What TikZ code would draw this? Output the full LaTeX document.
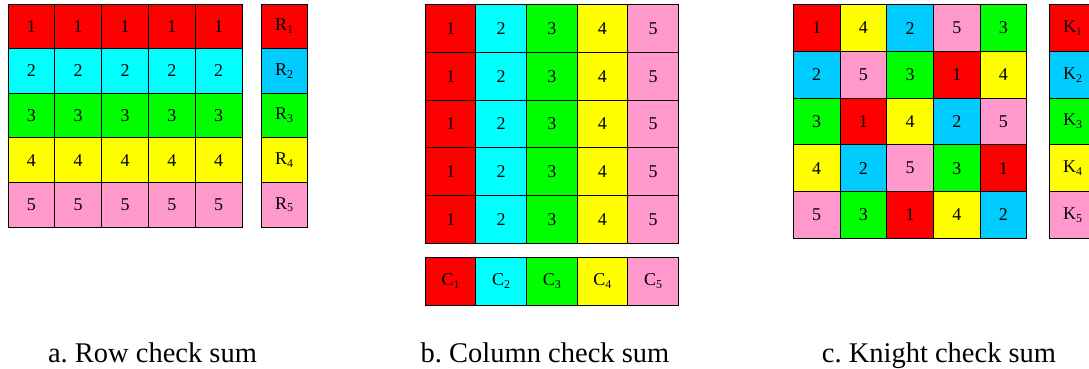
\documentclass[tikz,border=0pt]{standalone}
\usepackage{fontspec}
\setmainfont{Liberation Serif}
\frenchspacing
\definecolor{cred}{HTML}{FF0000}
\definecolor{ccyan}{HTML}{00FFFF}
\definecolor{csky}{HTML}{00CCFF}
\definecolor{cgreen}{HTML}{00FF00}
\definecolor{cyel}{HTML}{FFFF00}
\definecolor{cpink}{HTML}{FF99CC}
% panel a / b colours by value
\colorlet{a1}{cred}\colorlet{a2}{ccyan}\colorlet{a3}{cgreen}\colorlet{a4}{cyel}\colorlet{a5}{cpink}
\colorlet{r1}{cred}\colorlet{r2}{csky}\colorlet{r3}{cgreen}\colorlet{r4}{cyel}\colorlet{r5}{cpink}
\newcommand{\subn}[2]{#1\raisebox{-0.35ex}{\fontsize{12}{12}\selectfont #2}}
\begin{document}
\begin{tikzpicture}[x=1pt,y=-1pt,
  cell/.style={draw=black, line width=1pt, inner sep=0pt, outer sep=0pt, anchor=north west,
    font=\fontsize{18}{18}\selectfont},
  caption/.style={anchor=base, inner sep=0pt, font=\fontsize{28.5}{28.5}\selectfont}]
\useasboundingbox (0,0) rectangle (1089,368);
% ---------- panel a ----------
\foreach \r in {1,...,5}{
  \foreach \c in {1,...,5}{
    \node[cell, fill=a\r, minimum width=46.8pt, minimum height=44.6pt]
      (a-\r-\c) at ({8+46.8*(\c-1)},{4+44.6*(\r-1)}) {\r};
  }
  \node[cell, fill=r\r, minimum width=46pt, minimum height=44.6pt]
    (R-\r) at (261,{4+44.6*(\r-1)}) {\subn{R}{\r}};
}
% ---------- panel b ----------
\foreach \r in {1,...,5}{
  \foreach \c in {1,...,5}{
    \node[cell, fill=a\c, minimum width=50.6pt, minimum height=47.7pt]
      (b-\r-\c) at ({425.3+50.6*(\c-1)},{4.7+47.7*(\r-1)}) {\c};
  }
}
\foreach \c in {1,...,5}{
  \node[cell, fill=a\c, minimum width=50.6pt, minimum height=47.3pt]
    (C-\c) at ({425.3+50.6*(\c-1)},257.7) {\subn{C}{\c}};
}
% ---------- panel c ----------
\foreach \r in {1,...,5}{
  \foreach \c in {1,...,5}{
    \pgfmathtruncatemacro\v{mod(\r-1+3*(\c-1),5)+1}
    \node[cell, fill=r\v, minimum width=46.7pt, minimum height=46.7pt]
      (k-\r-\c) at ({793.3+46.7*(\c-1)},{4.7+46.7*(\r-1)}) {\v};
  }
  \node[cell, fill=r\r, minimum width=46.7pt, minimum height=46.7pt]
    (K-\r) at (1049.3,{4.7+46.7*(\r-1)}) {\subn{K}{\r}};
}
% ---------- captions ----------
\node[caption] (capa) at (152.5,362) {a. Row check sum};
\node[caption] (capb) at (545,362) {b. Column check sum};
\node[caption] (capc) at (939,362) {c. Knight check sum};
\end{tikzpicture}
\end{document}
